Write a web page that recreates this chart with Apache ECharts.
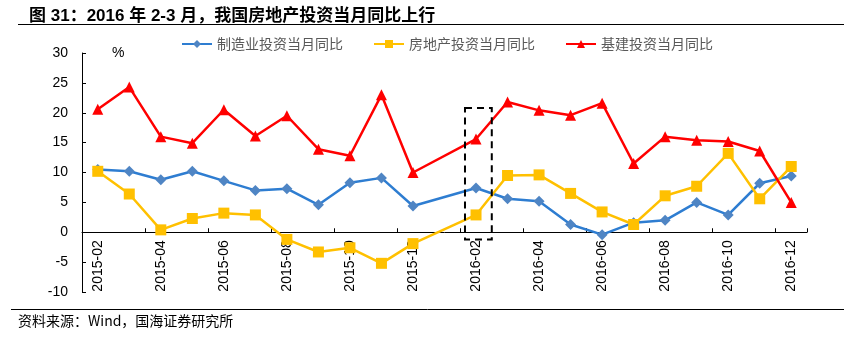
<!DOCTYPE html>
<html><head><meta charset="utf-8">
<script src="https://cdn.jsdelivr.net/npm/echarts@6/dist/echarts.min.js"></script>
<style>html,body{margin:0;padding:0;background:#fff}#c{width:844px;height:346px}</style>
</head><body><div id="c"></div>
<script>
var categories = ['2015-02','2015-03','2015-04','2015-05','2015-06','2015-07','2015-08','2015-09','2015-10','2015-11','2015-12','2016-01','2016-02','2016-03','2016-04','2016-05','2016-06','2016-07','2016-08','2016-09','2016-10','2016-11','2016-12'];
var manufacturing = [10.5,10.2,8.8,10.2,8.6,7.0,7.3,4.6,8.3,9.1,4.4,null,7.4,5.6,5.2,1.3,-0.4,1.6,2.0,5.0,2.9,8.2,9.4];
var realEstate = [10.2,6.4,0.4,2.3,3.2,2.9,-1.2,-3.3,-2.6,-5.2,-1.9,null,2.9,9.5,9.6,6.5,3.4,1.3,6.1,7.7,13.2,5.6,11.0];
var infrastructure = [20.6,24.3,16.0,14.9,20.5,16.1,19.5,13.9,12.8,23.0,10.0,null,15.6,21.8,20.4,19.6,21.6,11.5,16.0,15.4,15.2,13.6,5.0];
var seriesNames = ['制造业投资当月同比','房地产投资当月同比','基建投资当月同比'];
var yTicks = {min:-10, max:30, interval:5};
var highlightBox = {cat:'2016-02', top:20.8, bottom:-1.2};

var chart = echarts.init(document.getElementById('c'));
var baseFont = 'Liberation Sans, Arial, sans-serif';
var staticGraphics = [
  {type:'line', shape:{x1:18,y1:24.5,x2:844,y2:24.5}, style:{stroke:'#000', lineWidth:1}},
  {type:'line', shape:{x1:11,y1:309.5,x2:844,y2:309.5}, style:{stroke:'#000', lineWidth:1}},
  {type:'text', left:18, top:314, style:{text:'资料来源：Wind，国海证券研究所', fontSize:14, fill:'#000', fontFamily:'Noto Sans CJK SC, serif'}}
];
chart.setOption({
  animation:false,
  backgroundColor:'#fff',
  title:{
    text:'图 31：2016 年 2-3 月，我国房地产投资当月同比上行',
    left:24, top:3,
    textStyle:{fontSize:17, fontWeight:'bold', color:'#000', fontFamily:'Liberation Sans, Noto Sans CJK SC, sans-serif'}
  },
  legend:{
    left:176, top:32, itemWidth:30, itemHeight:10, itemGap:30,
    textStyle:{fontSize:14, color:'#595959', fontFamily:'Noto Sans CJK SC, sans-serif'},
    data:seriesNames
  },
  grid:{left:82, right:37, top:53, bottom:54, containLabel:false, outerBoundsMode:'none'},
  xAxis:{
    type:'category', data:categories, boundaryGap:true, offset:0,
    axisLine:{onZero:false, lineStyle:{color:'#000', width:1}},
    axisTick:{show:true, inside:true, length:4, interval:1, lineStyle:{color:'#000'}},
    axisLabel:{interval:1, rotate:90, color:'#000', fontSize:14, fontFamily:baseFont, margin:8}
  },
  yAxis:{
    type:'value', min:yTicks.min, max:yTicks.max, interval:yTicks.interval,
    name:'%', nameLocation:'end', nameGap:-7,
    nameTextStyle:{fontSize:14, color:'#000', fontFamily:baseFont, align:'left', padding:[0,0,0,30]},
    axisLine:{show:true, lineStyle:{color:'#000'}},
    axisTick:{show:true, inside:true, length:4, lineStyle:{color:'#000'}},
    splitLine:{show:false},
    axisLabel:{color:'#000', fontSize:14, fontFamily:baseFont, margin:14}
  },
  graphic:staticGraphics,
  series:[
    {name:seriesNames[0], type:'line', data:manufacturing, connectNulls:true,
     symbol:'diamond', symbolSize:11, lineStyle:{color:'#2e7dd1', width:2.5},
     itemStyle:{color:'#4f85c4'}},
    {name:seriesNames[1], type:'line', data:realEstate, connectNulls:true,
     symbol:'rect', symbolSize:11, lineStyle:{color:'#ffc000', width:2.5},
     itemStyle:{color:'#ffc000'}},
    {name:seriesNames[2], type:'line', data:infrastructure, connectNulls:true,
     symbol:'triangle', symbolSize:11, lineStyle:{color:'#ff0000', width:2.5},
     itemStyle:{color:'#ff0000'}}
  ]
});
// move the x axis (line, ticks, labels) up to the zero line, using the chart's own scale
var zeroY = chart.convertToPixel({yAxisIndex:0}, 0);
var bottomY = chart.convertToPixel({yAxisIndex:0}, yTicks.min);
// dashed highlight box around 2016-02
var idx = categories.indexOf(highlightBox.cat);
var pTop = chart.convertToPixel({gridIndex:0}, [idx, highlightBox.top]);
var pBot = chart.convertToPixel({gridIndex:0}, [idx, highlightBox.bottom]);
var band = chart.convertToPixel({gridIndex:0}, [idx+1, 0])[0] - pTop[0];
chart.setOption({
  xAxis:{offset:zeroY - bottomY},
  graphic:staticGraphics.concat([
    {type:'rect', shape:{x:pTop[0]-band*0.35, y:pTop[1], width:band*0.85, height:pBot[1]-pTop[1]},
     style:{fill:'none', stroke:'#000', lineWidth:2, lineDash:[7,5]}, z:10}
  ])
}, {replaceMerge:['graphic']});
</script></body></html>
